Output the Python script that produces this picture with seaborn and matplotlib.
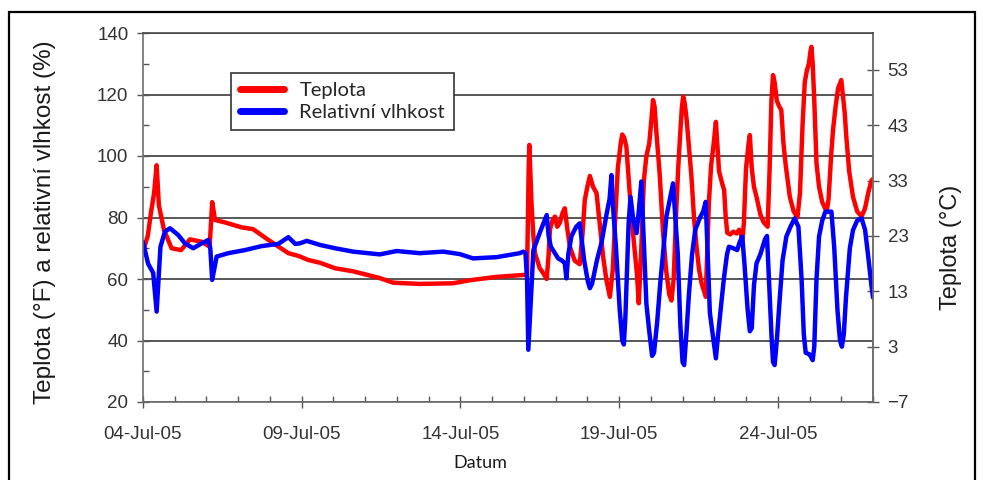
import numpy as np
import pandas as pd
import matplotlib
matplotlib.use("Agg")
import matplotlib.pyplot as plt
import matplotlib.dates as mdates
from matplotlib.ticker import MultipleLocator
from matplotlib.patches import Rectangle
import seaborn as sns

sns.set_theme(style="white")
plt.rcParams["font.family"] = ["Liberation Sans", "DejaVu Sans"]

# Measurement series: time since 4 July 2005 in days, values as recorded
start = pd.Timestamp("2005-07-04")

temp_days = [0.00, 0.15, 0.25, 0.35, 0.43, 0.50, 0.66, 0.90, 1.20, 1.48, 1.85, 2.10,
             2.18, 2.27, 2.58, 3.10, 3.47, 3.95, 4.58, 4.90, 5.20, 5.57, 6.05, 6.62,
             7.46, 7.88, 8.72, 9.76, 10.30, 11.14, 11.98,
             12.10, 12.15, 12.17, 12.20, 12.24, 12.30, 12.35, 12.50, 12.61, 12.72,
             12.78, 12.82, 12.90, 12.98, 13.05, 13.13, 13.22, 13.29, 13.36, 13.45,
             13.60, 13.76, 13.85, 13.92, 14.00, 14.08, 14.18, 14.29, 14.40, 14.50,
             14.60, 14.71, 14.80, 14.88, 14.96, 15.05, 15.10, 15.16, 15.23, 15.32,
             15.40, 15.50, 15.56, 15.62, 15.70, 15.78, 15.86, 15.95, 16.02, 16.07,
             16.12, 16.17, 16.28, 16.38, 16.48, 16.58, 16.65, 16.72, 16.80, 16.86,
             16.93, 16.98, 17.02, 17.07, 17.13, 17.20, 17.28, 17.36, 17.44, 17.52,
             17.60, 17.73, 17.78, 17.83, 17.90, 17.98, 18.05, 18.10, 18.15, 18.25,
             18.31, 18.36, 18.41, 18.50, 18.60, 18.70, 18.78, 18.83, 18.88, 18.93,
             19.00, 19.08, 19.12, 19.18, 19.25, 19.33, 19.45, 19.55, 19.68, 19.74,
             19.80, 19.85, 19.90, 19.97, 20.05, 20.11, 20.18, 20.25, 20.38, 20.50,
             20.62, 20.70, 20.78, 20.85, 20.92, 20.98, 21.03, 21.06, 21.10, 21.15,
             21.22, 21.30, 21.40, 21.54, 21.60, 21.68, 21.74, 21.82, 21.90, 22.00,
             22.06, 22.11, 22.16, 22.25, 22.37, 22.50, 22.64, 22.75, 22.85, 22.95,
             23.00]
temp_f = [69.0, 74.0, 81.5, 88.0, 97.0, 84.0, 76.0, 70.0, 69.4, 72.9, 72.1, 70.5,
          85.0, 79.2, 78.4, 76.8, 76.2, 72.7, 68.4, 67.5, 66.2, 65.3, 63.5, 62.5,
          60.3, 58.8, 58.4, 58.6, 59.6, 60.7, 61.3,
          61.5, 95.0, 103.6, 96.0, 84.6, 74.0, 68.4, 63.5, 61.9, 60.0,
          68.0, 76.0, 79.0, 80.3, 77.0, 78.2, 81.5, 83.0, 77.0, 70.5,
          66.0, 64.8, 75.0, 85.7, 90.0, 93.5, 90.0, 87.9, 77.0, 67.0,
          59.7, 54.2, 62.9, 80.0, 96.0, 104.0, 107.0, 106.0, 103.0, 90.0,
          79.0, 68.5, 62.0, 52.1, 70.0, 92.0, 100.0, 104.0, 112.0, 118.2,
          116.0, 108.4, 94.0, 76.0, 63.0, 55.0, 53.0, 60.0, 82.0, 95.5,
          108.0, 116.0, 119.3, 117.0, 111.7, 103.0, 93.3, 80.0, 70.5, 63.0,
          58.6, 54.2, 70.0, 85.0, 97.0, 104.0, 111.1, 103.0, 95.0, 91.0,
          88.9, 80.0, 75.0, 74.5, 75.4, 74.8, 76.0, 75.4, 72.0, 78.0,
          96.0, 104.0, 106.8, 96.0, 90.0, 86.7, 81.0, 78.5, 77.0, 95.0,
          118.0, 126.3, 124.0, 118.0, 116.0, 115.0, 104.0, 97.0, 86.7, 82.0,
          80.0, 88.0, 110.0, 124.0, 128.0, 130.0, 134.0, 135.5, 130.0, 118.0,
          97.6, 90.0, 85.0, 81.9, 86.0, 100.0, 108.4, 116.0, 122.0, 124.7,
          119.0, 113.9, 106.2, 95.0, 86.7, 82.0, 80.3, 83.0, 88.0, 92.0,
          92.5]

rh_days = [0.00, 0.16, 0.32, 0.43, 0.55, 0.69, 0.85, 1.11, 1.32, 1.58, 1.85, 2.06,
           2.12, 2.18, 2.32, 2.69, 3.21, 3.74, 4.26, 4.58, 4.80, 4.94, 5.16, 5.57,
           6.05, 6.62, 7.46, 7.99, 8.72, 9.46, 9.98, 10.40, 11.14, 11.87, 11.98,
           12.05, 12.10, 12.14, 12.18, 12.30, 12.50, 12.65, 12.72, 12.78, 12.85,
           13.00, 13.08, 13.20, 13.29, 13.34, 13.40, 13.50, 13.65, 13.76, 13.90,
           14.02, 14.08, 14.15, 14.30, 14.45, 14.60, 14.70, 14.76, 14.82, 14.90,
           15.02, 15.10, 15.15, 15.20, 15.30, 15.36, 15.45, 15.55, 15.62, 15.70,
           15.78, 15.86, 15.94, 16.04, 16.10, 16.20, 16.30, 16.40, 16.49, 16.60,
           16.70, 16.76, 16.85, 16.93, 17.00, 17.05, 17.12, 17.20, 17.30, 17.40,
           17.55, 17.65, 17.73, 17.80, 17.86, 17.95, 18.05, 18.12, 18.22, 18.30,
           18.40, 18.46, 18.60, 18.72, 18.80, 18.88, 18.95, 19.05, 19.12, 19.18,
           19.25, 19.33, 19.45, 19.60, 19.66, 19.72, 19.80, 19.85, 19.90, 19.97,
           20.05, 20.15, 20.27, 20.40, 20.53, 20.65, 20.75, 20.82, 20.88, 21.00,
           21.10, 21.15, 21.22, 21.30, 21.40, 21.50, 21.69, 21.78, 21.88, 21.96,
           22.02, 22.08, 22.15, 22.27, 22.37, 22.50, 22.64, 22.75, 22.85, 22.95,
           23.00]
rh_pct = [72.0, 65.0, 62.0, 49.4, 70.5, 75.4, 76.5, 74.3, 71.6, 70.0, 71.6, 72.7,
          70.0, 59.7, 67.3, 68.4, 69.4, 70.7, 71.4, 73.6, 71.4, 71.6, 72.4, 71.1,
          70.0, 68.9, 68.0, 69.1, 68.4, 68.9, 68.1, 66.7, 67.1, 68.4, 68.9,
          68.5, 60.0, 37.0, 45.0, 69.4, 75.0, 79.0, 80.8, 74.0, 70.5,
          68.0, 66.7, 66.0, 65.1, 60.2, 68.0, 74.0, 77.0, 78.1, 66.0,
          59.0, 57.0, 58.5, 66.0, 72.0, 80.8, 86.0, 93.8, 82.0, 70.5,
          50.0, 40.0, 38.7, 48.0, 78.0, 86.7, 79.0, 74.9, 82.0, 91.7,
          72.0, 52.0, 44.0, 35.0, 36.0, 46.0, 59.0, 70.0, 80.3, 86.0,
          91.1, 82.0, 68.0, 45.0, 33.0, 32.0, 42.0, 55.0, 68.0, 76.0,
          80.0, 82.0, 85.1, 66.0, 49.0, 42.0, 34.2, 42.0, 52.0, 60.0,
          68.0, 70.5, 70.0, 69.4, 72.0, 73.8, 65.0, 50.0, 43.0, 44.0,
          58.0, 65.1, 68.0, 73.0, 74.0, 60.0, 42.0, 33.0, 32.0, 40.0,
          52.0, 66.0, 73.8, 77.0, 79.7, 77.0, 60.0, 42.0, 36.0, 35.5,
          33.6, 38.0, 60.0, 73.8, 79.0, 81.9, 81.9, 70.0, 50.0, 40.0,
          38.0, 42.0, 54.2, 70.0, 75.9, 79.0, 79.7, 76.0, 67.3, 58.0,
          54.0]

celsius_ticks = [-7, 3, 13, 23, 33, 43, 53]
x_tick_days = [4, 9, 14, 19, 24]

df_temp = pd.DataFrame({"Datum": start + pd.to_timedelta(temp_days, unit="D"),
                        "hodnota": temp_f})
df_rh = pd.DataFrame({"Datum": start + pd.to_timedelta(rh_days, unit="D"),
                      "hodnota": rh_pct})

fig = plt.figure(figsize=(9.83, 4.8), dpi=100)
ax = fig.add_axes([143 / 983, 78 / 480, 730 / 983, 369 / 480])

sns.lineplot(data=df_temp, x="Datum", y="hodnota", color="#ff0000", lw=3.2,
             ax=ax, label="Teplota")
sns.lineplot(data=df_rh, x="Datum", y="hodnota", color="#0000ff", lw=3.2,
             ax=ax, label="Relativní vlhkost")

ax.set_xlim(start, start + pd.Timedelta(days=23))
ax.set_ylim(20, 140)
ax.yaxis.set_major_locator(MultipleLocator(20))
ax.yaxis.set_minor_locator(MultipleLocator(10))
ax.xaxis.set_major_locator(mdates.DayLocator(bymonthday=x_tick_days))
ax.xaxis.set_minor_locator(mdates.DayLocator())
ax.xaxis.set_major_formatter(mdates.DateFormatter("%d-%b-%y"))

ax.grid(False)
ax.grid(axis="y", which="major", color="#4a4a4a", lw=1.3)
ax.set_axisbelow(True)
for name, sp in ax.spines.items():
    sp.set_color("#6e6e6e")
    sp.set_linewidth(1.2)
ax.spines["top"].set_color("#4a4a4a")

ax.tick_params(axis="both", which="major", direction="inout", length=9, width=1,
               color="#555555", labelsize=13.5, labelcolor="#333333")
ax.tick_params(axis="y", which="major", left=True, pad=6)
ax.tick_params(axis="x", which="major", bottom=True, pad=13)
ax.tick_params(axis="both", which="minor", direction="in", length=4, width=1,
               color="#555555", left=True, bottom=True)

ax.set_ylabel("Teplota (°F) a relativní vlhkost (%)", fontsize=17.5, color="#1a1a1a")
ax.yaxis.label.set_va("center")
ax.yaxis.set_label_coords((45 - 143) / 730, (402 - 222) / 369)

ax.set_xlabel("Datum", fontsize=13, family=["Lato", "DejaVu Sans"], color="#1a1a1a")
ax.xaxis.label.set_va("center")
ax.xaxis.set_label_coords((480 - 143) / 730, (402 - 463) / 369)

# Celsius scale on the right: -7 °C sits on the 20 line, 10 °C per 18 units
sec = ax.secondary_yaxis("right", functions=(lambda f: (f - 20) / 1.8 - 7,
                                             lambda c: (c + 7) * 1.8 + 20))
sec.set_yticks(celsius_ticks)
sec.tick_params(axis="y", which="major", direction="inout", length=9, width=1,
                color="#555555", labelsize=13.5, labelcolor="#333333", pad=6, right=True)
sec.tick_params(axis="y", which="minor", right=False)
sec.spines["right"].set_color("#6e6e6e")
sec.spines["right"].set_linewidth(1.2)
sec.set_ylabel("Teplota (°C)", fontsize=17, color="#1a1a1a")
sec.yaxis.label.set_va("center")
sec.yaxis.label.set_ha("center")
sec.yaxis.set_label_coords((951 - 143) / 730, (402 - 247) / 369, transform=ax.transAxes)

leg = ax.legend(loc="upper left", bbox_to_anchor=((231 - 143) / 730, (402 - 73) / 369),
                borderaxespad=0, frameon=True, fancybox=False, framealpha=1,
                edgecolor="#333333", prop={"family": ["Lato", "DejaVu Sans"], "size": 14.5},
                handlelength=2.2, labelspacing=0.25, borderpad=0.45, handletextpad=0.75)
leg.get_frame().set_linewidth(1.2)
for line in leg.get_lines():
    line.set_linewidth(5)

fig.patches.append(Rectangle((9 / 983, -0.05), 966 / 983, 1.025,
                             transform=fig.transFigure, fill=False,
                             edgecolor="black", lw=1.6))

fig.savefig("out.png", dpi=100)
